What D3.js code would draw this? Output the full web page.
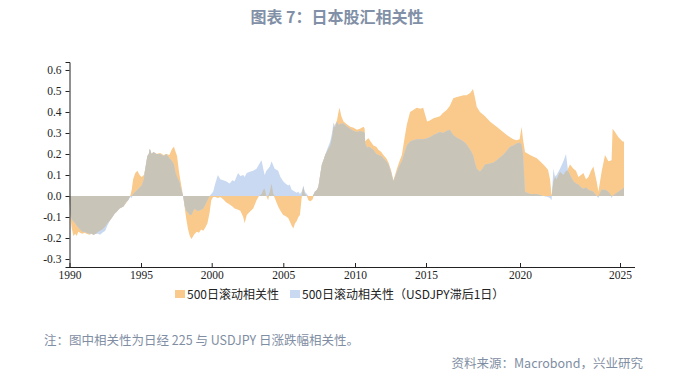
<!DOCTYPE html>
<meta charset="utf-8">
<script src="https://d3js.org/d3.v7.min.js"></script>
<style>
  body { margin: 0; background: #fff; }
  svg { display: block; }
  .tick text { font-family: "Liberation Serif", "DejaVu Serif", serif; font-size: 11.5px; fill: #222; }
</style>
<body>
<div id="chart"></div>
<script>
  // time (fractional years)
  var years = [
    1990.00, 1990.05, 1990.15, 1990.27, 1990.40, 1990.50, 1990.62, 1990.74, 1990.90, 1991.05,
    1991.20, 1991.40, 1991.55, 1991.67, 1991.85, 1992.00, 1992.14, 1992.30, 1992.50, 1992.65,
    1992.84, 1993.00, 1993.15, 1993.30, 1993.50, 1993.77, 1993.95, 1994.10, 1994.25, 1994.35,
    1994.45, 1994.60, 1994.75, 1994.90, 1995.05, 1995.20, 1995.30, 1995.45, 1995.55, 1995.62,
    1995.75, 1995.88, 1996.10, 1996.35, 1996.60, 1996.80, 1997.00, 1997.10, 1997.20, 1997.33,
    1997.45, 1997.55, 1997.70, 1997.85, 1997.98, 1998.10, 1998.20, 1998.33, 1998.45, 1998.57,
    1998.70, 1998.80, 1998.95, 1999.10, 1999.25, 1999.40, 1999.55, 1999.70, 1999.85, 1999.97,
    2000.10, 2000.25, 2000.43, 2000.60, 2000.80, 2001.00, 2001.25, 2001.45, 2001.60, 2001.84,
    2002.00, 2002.20, 2002.30, 2002.45, 2002.66, 2002.90, 2003.13, 2003.30, 2003.48, 2003.60,
    2003.70, 2003.82, 2003.94, 2004.06, 2004.18, 2004.30, 2004.40, 2004.52, 2004.64, 2004.80,
    2004.99, 2005.15, 2005.34, 2005.45, 2005.58, 2005.70, 2005.82, 2005.93, 2006.05, 2006.16,
    2006.28, 2006.40, 2006.50, 2006.64, 2006.75, 2006.90, 2007.05, 2007.20, 2007.35, 2007.45,
    2007.57, 2007.69, 2007.80, 2007.92, 2008.10, 2008.27, 2008.40, 2008.50, 2008.62, 2008.74,
    2008.85, 2008.92, 2009.05, 2009.20, 2009.45, 2009.67, 2009.90, 2010.14, 2010.35, 2010.60,
    2010.68, 2010.72, 2010.85, 2010.95, 2011.10, 2011.30, 2011.50, 2011.65, 2011.85, 2012.00,
    2012.20, 2012.36, 2012.55, 2012.70, 2012.82, 2012.95, 2013.10, 2013.30, 2013.50, 2013.65,
    2013.88, 2014.10, 2014.35, 2014.60, 2014.80, 2015.06, 2015.20, 2015.40, 2015.74, 2015.90,
    2016.10, 2016.27, 2016.45, 2016.60, 2016.80, 2017.00, 2017.16, 2017.35, 2017.50, 2017.60,
    2017.70, 2017.87, 2018.00, 2018.14, 2018.40, 2018.60, 2018.76, 2019.10, 2019.30, 2019.47,
    2019.65, 2019.82, 2019.98, 2020.08, 2020.15, 2020.25, 2020.50, 2020.84, 2021.00, 2021.17,
    2021.40, 2021.50, 2021.58, 2021.67, 2021.75, 2021.83, 2022.00, 2022.17, 2022.30, 2022.40,
    2022.50, 2022.67, 2022.80, 2022.92, 2023.05, 2023.17, 2023.30, 2023.42, 2023.55, 2023.67,
    2023.83, 2023.92, 2024.08, 2024.25, 2024.42, 2024.58, 2024.63, 2024.75, 2024.92, 2025.13,
    2025.20
  ];

  // 500日滚动相关性
  var corr = [
    0.000, -0.090, -0.150, -0.190, -0.180, -0.190, -0.170, -0.175, -0.180, -0.175,
    -0.180, -0.185, -0.180, -0.185, -0.180, -0.170, -0.165, -0.160, -0.145, -0.130,
    -0.115, -0.100, -0.085, -0.075, -0.060, -0.050, -0.035, -0.020, 0.000, 0.030,
    0.080, 0.110, 0.120, 0.100, 0.090, 0.100, 0.130, 0.190, 0.200, 0.225,
    0.200, 0.210, 0.200, 0.205, 0.195, 0.200, 0.195, 0.210, 0.225, 0.235,
    0.210, 0.190, 0.110, 0.050, 0.000, -0.060, -0.110, -0.160, -0.190, -0.205,
    -0.190, -0.180, -0.170, -0.175, -0.160, -0.165, -0.150, -0.130, -0.080, -0.020,
    -0.005, -0.005, -0.010, -0.005, -0.015, -0.030, -0.040, -0.050, -0.060, -0.065,
    -0.070, -0.100, -0.130, -0.090, -0.075, -0.060, -0.020, 0.000, 0.010, 0.030,
    0.035, 0.000, -0.020, 0.020, 0.060, 0.010, -0.010, -0.030, -0.050, -0.070,
    -0.090, -0.095, -0.105, -0.120, -0.140, -0.155, -0.130, -0.120, -0.100, -0.090,
    -0.010, 0.045, 0.010, 0.000, -0.020, -0.025, -0.015, 0.020, 0.030, 0.045,
    0.100, 0.150, 0.170, 0.195, 0.220, 0.240, 0.280, 0.330, 0.340, 0.360,
    0.400, 0.420, 0.380, 0.355, 0.340, 0.330, 0.325, 0.315, 0.320, 0.330,
    0.320, 0.260, 0.270, 0.275, 0.260, 0.240, 0.235, 0.220, 0.210, 0.195,
    0.180, 0.160, 0.120, 0.075, 0.100, 0.130, 0.160, 0.195, 0.280, 0.340,
    0.400, 0.410, 0.420, 0.415, 0.420, 0.355, 0.360, 0.370, 0.380, 0.395,
    0.410, 0.430, 0.465, 0.470, 0.475, 0.480, 0.480, 0.490, 0.510, 0.470,
    0.425, 0.400, 0.390, 0.380, 0.355, 0.340, 0.330, 0.305, 0.290, 0.280,
    0.270, 0.265, 0.270, 0.330, 0.270, 0.210, 0.195, 0.180, 0.165, 0.150,
    0.125, 0.080, 0.000, 0.070, 0.100, 0.080, 0.115, 0.100, 0.120, 0.130,
    0.150, 0.130, 0.120, 0.090, 0.100, 0.110, 0.080, 0.090, 0.120, 0.140,
    0.070, 0.020, 0.115, 0.195, 0.165, 0.170, 0.320, 0.305, 0.280, 0.260,
    0.260
  ];

  // 500日滚动相关性（USDJPY滞后1日）
  var corrLag = [
    0.000, -0.080, -0.110, -0.120, -0.130, -0.140, -0.150, -0.160, -0.170, -0.170,
    -0.175, -0.180, -0.180, -0.185, -0.180, -0.180, -0.185, -0.175, -0.165, -0.140,
    -0.115, -0.100, -0.085, -0.075, -0.060, -0.050, -0.030, -0.020, -0.005, -0.010,
    0.010, 0.020, 0.030, 0.040, 0.050, 0.080, 0.130, 0.190, 0.200, 0.225,
    0.200, 0.210, 0.200, 0.200, 0.190, 0.200, 0.180, 0.175, 0.165, 0.150,
    0.110, 0.090, 0.070, 0.030, 0.000, -0.050, -0.070, -0.080, -0.090, -0.090,
    -0.070, -0.060, -0.070, -0.070, -0.065, -0.060, -0.040, -0.020, 0.000, 0.010,
    0.020, 0.060, 0.100, 0.080, 0.075, 0.070, 0.060, 0.075, 0.070, 0.110,
    0.095, 0.100, 0.090, 0.110, 0.115, 0.120, 0.130, 0.150, 0.170, 0.130,
    0.100, 0.120, 0.130, 0.140, 0.165, 0.145, 0.130, 0.125, 0.120, 0.090,
    0.070, 0.060, 0.050, 0.055, 0.030, 0.025, 0.020, 0.015, 0.020, 0.010,
    0.020, 0.050, 0.020, 0.010, 0.000, 0.000, 0.000, 0.020, 0.030, 0.045,
    0.100, 0.150, 0.170, 0.195, 0.230, 0.260, 0.300, 0.350, 0.330, 0.355,
    0.340, 0.340, 0.345, 0.345, 0.330, 0.320, 0.310, 0.305, 0.310, 0.305,
    0.300, 0.250, 0.230, 0.235, 0.230, 0.220, 0.200, 0.195, 0.190, 0.180,
    0.165, 0.150, 0.110, 0.070, 0.090, 0.115, 0.140, 0.165, 0.210, 0.240,
    0.260, 0.265, 0.270, 0.270, 0.270, 0.275, 0.280, 0.290, 0.305, 0.300,
    0.310, 0.315, 0.290, 0.280, 0.270, 0.260, 0.245, 0.220, 0.195, 0.160,
    0.130, 0.115, 0.130, 0.150, 0.155, 0.160, 0.170, 0.195, 0.215, 0.235,
    0.240, 0.250, 0.255, 0.245, 0.200, 0.020, 0.010, 0.010, 0.005, 0.000,
    -0.005, -0.010, -0.020, 0.130, 0.090, 0.100, 0.130, 0.165, 0.200, 0.120,
    0.100, 0.070, 0.060, 0.055, 0.040, 0.035, 0.040, 0.030, 0.025, 0.020,
    0.000, -0.010, 0.030, 0.030, 0.020, -0.010, 0.000, 0.010, 0.020, 0.035,
    0.040
  ];

  var yTicks = [-0.3, -0.2, -0.1, 0.0, 0.1, 0.2, 0.3, 0.4, 0.5, 0.6];
  var xTicks = [1990, 1995, 2000, 2005, 2010, 2015, 2020, 2025];
  var legendLabels = ["500日滚动相关性", "500日滚动相关性（USDJPY滞后1日）"];
  var colours = { corr: "#F9CA8B", lag: "#C9D9F1", both: "#C9C4B8" };

  var width = 692, height = 373;

  var data = years.map(function (t, i) {
    var o = corr[i], b = corrLag[i];
    // where both series share a sign, the overlap shows as a grey band
    var g = (o * b > 0) ? Math.sign(o) * Math.min(Math.abs(o), Math.abs(b)) : 0;
    return { t: t, o: o, b: b, g: g };
  });

  var svg = d3.select("#chart").append("svg")
      .attr("width", width)
      .attr("height", height);

  // title
  svg.append("text")
      .attr("x", 337).attr("y", 23)
      .attr("text-anchor", "middle")
      .style("font-family", "'Noto Sans CJK SC', sans-serif")
      .style("font-weight", "bold")
      .style("font-size", "16px")
      .style("fill", "#8190A6")
      .text("图表 7：日本股汇相关性");

  // the time axis in the reference is not evenly spaced after 2015
  var x = d3.scaleLinear()
      .domain([1990, 1995, 2000, 2005, 2010, 2015, 2020, 2025, 2025.75])
      .range([69.5, 141, 211.7, 283.3, 355, 426, 520, 620, 635]);

  var y = d3.scaleLinear()
      .domain([-0.338, 0.638])
      .range([267, 62]);

  function area(key) {
    return d3.area()
        .x(function (d) { return x(d.t); })
        .y0(y(0))
        .y1(function (d) { return y(d[key]); });
  }

  var plot = svg.append("g");
  plot.append("path").datum(data).attr("d", area("o")).attr("fill", colours.corr);
  plot.append("path").datum(data).attr("d", area("b")).attr("fill", colours.lag);
  plot.append("path").datum(data).attr("d", area("g")).attr("fill", colours.both);

  // y axis, plain hyphen for negatives like the original
  var yAxis = svg.append("g")
      .attr("transform", "translate(69.5,0)")
      .call(d3.axisLeft(y).tickValues(yTicks).tickSize(4).tickPadding(4)
          .tickFormat(function (d) { return d.toFixed(1); }));
  yAxis.select(".domain").attr("stroke", "#222");
  yAxis.selectAll(".tick line").attr("stroke", "#222");

  // x axis (ticks point up into the plot)
  var xAxis = svg.append("g")
      .attr("transform", "translate(0,267)")
      .call(d3.axisBottom(x).tickValues(xTicks).tickSize(0).tickPadding(4)
          .tickFormat(d3.format("d")));
  xAxis.select(".domain").attr("stroke", "#222").attr("d", "M69.5,0.5H635");
  xAxis.selectAll(".tick line").attr("y2", -4).attr("stroke", "#222");

  // legend
  var legend = svg.append("g")
      .style("font-family", "'Noto Sans CJK SC', sans-serif")
      .style("font-size", "12px")
      .style("fill", "#222");
  var legendX = [175, 290];
  legendLabels.forEach(function (label, i) {
    legend.append("rect")
        .attr("x", legendX[i]).attr("y", 290)
        .attr("width", 10).attr("height", 8)
        .attr("fill", i === 0 ? colours.corr : colours.lag);
    legend.append("text")
        .attr("x", legendX[i] + 12).attr("y", 298.5)
        .text(label);
  });

  // notes
  svg.append("text")
      .attr("x", 44).attr("y", 345)
      .style("font-family", "'Noto Sans CJK SC', sans-serif")
      .style("font-size", "12.5px")
      .style("fill", "#7F8EA3")
      .text("注：图中相关性为日经 225 与 USDJPY 日涨跌幅相关性。");

  svg.append("text")
      .attr("x", 643).attr("y", 368)
      .attr("text-anchor", "end")
      .style("font-family", "'Noto Sans CJK SC', sans-serif")
      .style("font-size", "12.5px")
      .style("fill", "#7F8EA3")
      .text("资料来源：Macrobond，兴业研究");
</script>
</body>
